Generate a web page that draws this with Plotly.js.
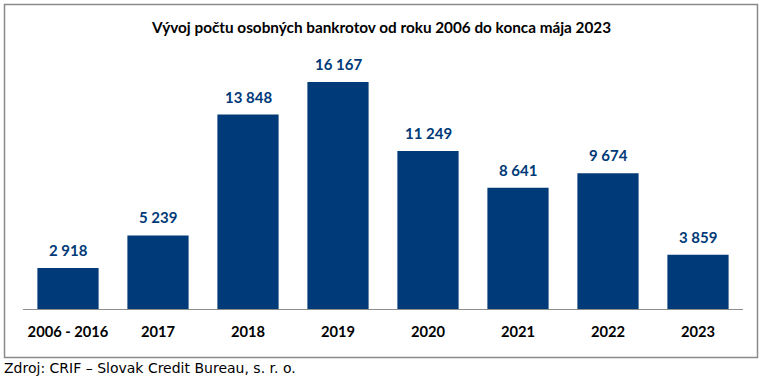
<!DOCTYPE html>
<html>
<head>
<meta charset="utf-8">
<script src="https://cdn.plot.ly/plotly-3.0.1.min.js"></script>
<style>
html,body{margin:0;padding:0;background:#fff;}
#chart{width:763px;height:378px;}
</style>
</head>
<body>
<div id="chart"></div>
<script>
const categories = ["2006 - 2016", "2017", "2018", "2019", "2020", "2021", "2022", "2023"];
const bankruptcies = [2918, 5239, 13848, 16167, 11249, 8641, 9674, 3859];
const chartTitle = "Vývoj počtu osobných bankrotov od roku 2006 do konca mája 2023";
const sourceNote = "Zdroj: CRIF – Slovak Credit Bureau, s. r. o.";

const W = 763, H = 378;
const m = {l: 23, r: 20, t: 42, b: 69};
const pw = W - m.l - m.r, ph = H - m.t - m.b;
const px = x => (x - m.l) / pw;
const py = y => (H - m.b - y) / ph;

const fmt = v => String(v).replace(/\B(?=(\d{3})+(?!\d))/g, " ");

const trace = {
  type: "bar",
  x: categories,
  y: bankruptcies,
  marker: {color: "#003a78"},
  hoverinfo: "skip"
};

const labelAnns = categories.map((c, i) => ({
  x: i, y: bankruptcies[i], xref: "x", yref: "y",
  text: "<b>" + fmt(bankruptcies[i]) + "</b>",
  showarrow: false, xanchor: "center", yanchor: "bottom",
  yshift: 7,
  font: {family: "Lato, 'Liberation Sans', sans-serif", size: 15, color: "#003a78"}
}));

const layout = {
  width: W, height: H,
  margin: m,
  paper_bgcolor: "#ffffff",
  plot_bgcolor: "#ffffff",
  bargap: 0.32,
  showlegend: false,
  title: {
    text: "<b>" + chartTitle + "</b>",
    font: {family: "Lato, 'Liberation Sans', sans-serif", size: 15.3, color: "#000"},
    x: 0.5, xanchor: "center",
    y: 1 - 28 / H, yanchor: "middle"
  },
  xaxis: {
    type: "category",
    categoryarray: categories,
    showgrid: false,
    showline: true,
    linecolor: "#8c8c8c",
    linewidth: 1,
    ticks: "",
    tickfont: {family: "Lato, 'Liberation Sans', sans-serif", size: 14.7, color: "#000", weight: 700},
    ticklabelstandoff: 9
  },
  yaxis: {
    range: [0, 19016],
    visible: false,
    showgrid: false,
    zeroline: false
  },
  shapes: [{
    type: "rect", xref: "paper", yref: "paper",
    x0: px(4.5), x1: px(757.5), y0: py(357.5), y1: py(4.5),
    line: {color: "#8a8a8a", width: 1.5},
    fillcolor: "rgba(0,0,0,0)", layer: "below"
  }],
  annotations: labelAnns.concat([{
    text: sourceNote,
    xref: "paper", yref: "paper",
    x: px(2), y: py(368),
    xanchor: "left", yanchor: "middle",
    showarrow: false,
    font: {family: "'DejaVu Sans', Verdana, sans-serif", size: 14, color: "#000"}
  }])
};

Plotly.newPlot("chart", [trace], layout, {displayModeBar: false, staticPlot: true});
</script>
</body>
</html>
